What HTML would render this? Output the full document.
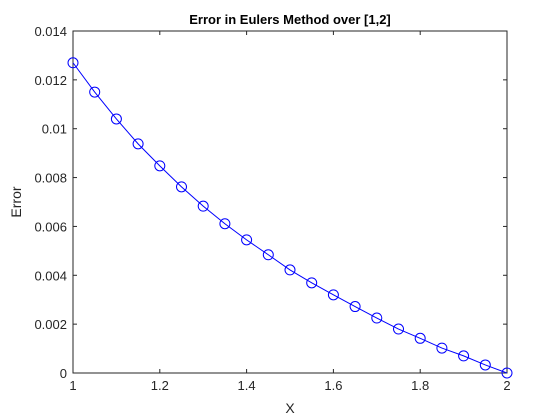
<!DOCTYPE html>
<html><head><meta charset="utf-8"><style>
html,body{margin:0;padding:0;background:#fff;}
svg{display:block;font-family:"Liberation Sans",sans-serif;}
</style></head><body>
<svg id="chart" width="560" height="420"></svg>
<script>
const xValues=[1,1.05,1.1,1.15,1.2,1.25,1.3,1.35,1.4,1.45,1.5,1.55,1.6,1.65,1.7,1.75,1.8,1.85,1.9,1.95,2];
const errorValues=[0.0127,0.0115,0.0104,0.00938,0.00848,0.00762,0.00683,0.00611,0.00545,0.00484,0.00422,0.00369,0.00320,0.00272,0.00225,0.00180,0.00142,0.00102,0.00070,0.00033,0];
const xTicks=[1,1.2,1.4,1.6,1.8,2];
const xTickLabels=["1","1.2","1.4","1.6","1.8","2"];
const yTicks=[0,0.002,0.004,0.006,0.008,0.01,0.012,0.014];
const yTickLabels=["0","0.002","0.004","0.006","0.008","0.01","0.012","0.014"];

const L=73,R=507,T=31,B=373;
const xMin=1,xMax=2,yMin=0,yMax=0.014;
const sx=v=>L+(v-xMin)/(xMax-xMin)*(R-L);
const sy=v=>B-(v-yMin)/(yMax-yMin)*(B-T);
const NS="http://www.w3.org/2000/svg";
const svg=document.getElementById('chart');
function mk(tag,attrs,text){const e=document.createElementNS(NS,tag);for(const k in attrs)e.setAttribute(k,attrs[k]);if(text!==undefined)e.textContent=text;svg.appendChild(e);return e;}

let box=mk('rect',{x:L,y:T,width:R-L,height:B-T,fill:'#fff',stroke:'#262626','stroke-width':1});



xTicks.forEach((t,i)=>{
  const x=sx(t);
  let a=mk('line',{x1:x,y1:B,x2:x,y2:B-4,stroke:'#262626'});
  
  
  let b=mk('line',{x1:x,y1:T,x2:x,y2:T+4,stroke:'#262626'});
  
  
  let l=mk('text',{x:x,y:B+17,'font-size':13,'text-anchor':'middle',fill:'#262626'},xTickLabels[i]);
  
  
});
yTicks.forEach((t,i)=>{
  const y=sy(t);
  let a=mk('line',{x1:L,y1:y,x2:L+4,y2:y,stroke:'#262626'});
  
  
  let b=mk('line',{x1:R,y1:y,x2:R-4,y2:y,stroke:'#262626'});
  
  
  let l=mk('text',{x:L-6,y:y+5,'font-size':13,'text-anchor':'end',fill:'#262626'},yTickLabels[i]);
  
  
});

let pts=xValues.map((x,i)=>sx(x)+','+sy(errorValues[i])).join(' ');
let line=mk('polyline',{points:pts,fill:'none',stroke:'#0000ff','stroke-width':1});


xValues.forEach((x,i)=>{
  let c=mk('circle',{cx:sx(x),cy:sy(errorValues[i]),r:5,fill:'none',stroke:'#0000ff','stroke-width':1});
  
  
});

let title=mk('text',{x:(L+R)/2,y:24,'font-size':13,'font-weight':'bold','text-anchor':'middle',fill:'#000'},'Error in Eulers Method over [1,2]');


let xl=mk('text',{x:(L+R)/2,y:413,'font-size':14,'text-anchor':'middle',fill:'#262626'},'X');


let yl=mk('text',{x:0,y:0,'font-size':14,'text-anchor':'middle',fill:'#262626',transform:'translate(21,'+((T+B)/2)+') rotate(-90)'},'Error');


</script>
</body></html>
